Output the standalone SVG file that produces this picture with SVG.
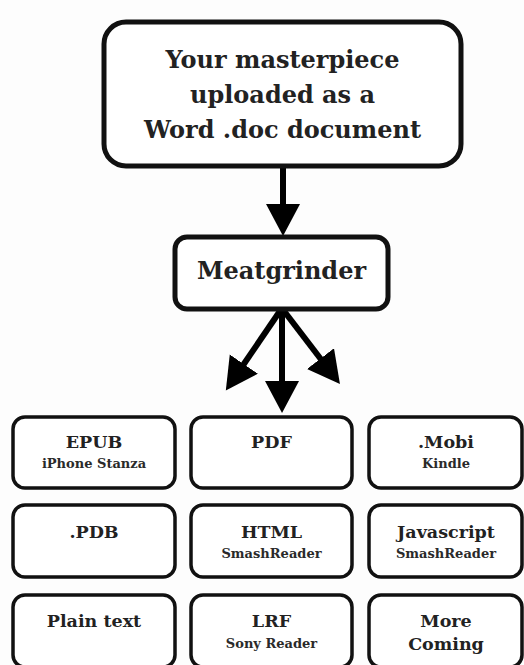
<svg xmlns="http://www.w3.org/2000/svg" width="524" height="665" viewBox="0 0 524 665">
<style>
text{font-family:"DejaVu Serif","Liberation Serif",serif}
.box{fill:#fff;stroke:#111;stroke-width:3.5}
.big{fill:#fff;stroke:#111;stroke-width:5}
.t{font-weight:bold;fill:#222;text-anchor:middle}
.s{fill:#2a2a2a;text-anchor:middle;font-size:13px;font-weight:bold}
.h{font-size:17.5px}
.c{stroke:#000;stroke-width:6;fill:none;marker-end:url(#ah)}
</style>
<defs>
<marker id="ah" markerUnits="userSpaceOnUse" markerWidth="34" markerHeight="36" refX="2" refY="17" orient="auto" viewBox="0 0 34 36">
<path d="M0,0 L32,17 L0,34 z" fill="#000"/>
</marker>
</defs>
<rect width="524" height="665" fill="#fdfdfd"/>
<g id="connectors">
<line class="c" x1="283" y1="168" x2="283" y2="206"/>
<line class="c" x1="282" y1="311" x2="282" y2="383"/>
<line class="c" x1="280" y1="311" x2="242.7" y2="365.8"/>
<line class="c" x1="284" y1="311" x2="321.7" y2="360.2"/>
</g>
<g id="source">
<rect class="big" x="104" y="22" width="357" height="144" rx="22"/>
<text class="t" x="282.5" y="68" font-size="24">Your masterpiece</text>
<text class="t" x="282.5" y="103" font-size="24">uploaded as a</text>
<text class="t" x="282.5" y="138" font-size="24">Word .doc document</text>
</g>
<g id="meatgrinder">
<rect class="big" x="175" y="237" width="213" height="72" rx="12"/>
<text class="t" x="281.5" y="279" font-size="24">Meatgrinder</text>
</g>
<g id="epub">
<rect class="box" x="13" y="417" width="162" height="71" rx="12"/>
<text class="t h" x="94" y="448">EPUB</text>
<text class="s" x="94" y="468">iPhone Stanza</text>
</g>
<g id="pdf">
<rect class="box" x="191" y="417" width="161" height="71" rx="12"/>
<text class="t h" x="271.5" y="448">PDF</text>
</g>
<g id="mobi">
<rect class="box" x="369" y="417" width="153" height="71" rx="12"/>
<text class="t h" x="446" y="448">.Mobi</text>
<text class="s" x="446" y="468">Kindle</text>
</g>
<g id="pdb">
<rect class="box" x="13" y="505" width="162" height="72" rx="12"/>
<text class="t h" x="94" y="538">.PDB</text>
</g>
<g id="html">
<rect class="box" x="191" y="505" width="161" height="72" rx="12"/>
<text class="t h" x="271.5" y="538">HTML</text>
<text class="s" x="271.5" y="558">SmashReader</text>
</g>
<g id="javascript">
<rect class="box" x="369" y="505" width="153" height="72" rx="12"/>
<text class="t h" x="446" y="538">Javascript</text>
<text class="s" x="446" y="558">SmashReader</text>
</g>
<g id="plaintext">
<rect class="box" x="13" y="595" width="162" height="72" rx="12"/>
<text class="t h" x="94" y="627">Plain text</text>
</g>
<g id="lrf">
<rect class="box" x="191" y="595" width="161" height="72" rx="12"/>
<text class="t h" x="271.5" y="627">LRF</text>
<text class="s" x="271.5" y="648">Sony Reader</text>
</g>
<g id="more">
<rect class="box" x="369" y="595" width="153" height="72" rx="12"/>
<text class="t h" x="446" y="627">More</text>
<text class="t h" x="446" y="650">Coming</text>
</g>
</svg>
